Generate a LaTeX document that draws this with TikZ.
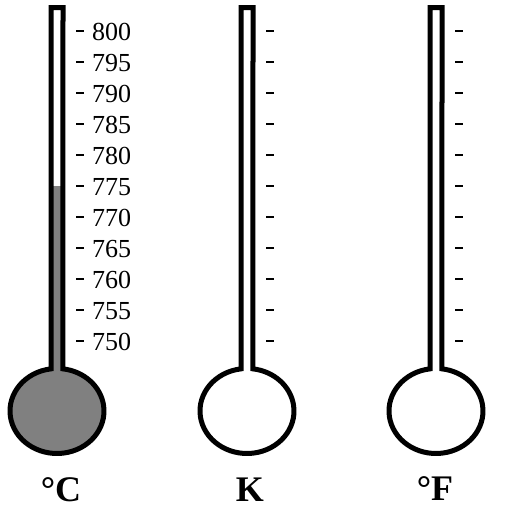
\documentclass[tikz,border=0pt]{standalone}
\usepackage{fontspec}
\setmainfont{Liberation Serif}
\usetikzlibrary{positioning}
\definecolor{mercury}{RGB}{128,128,128}

\begin{document}
\begin{tikzpicture}[x=1pt, y=-1pt,
    glass/.style={line width=5pt},
    tick/.style={line width=2.3pt},
    scalenum/.style={anchor=base west, inner sep=0pt, font=\fontsize{26}{30}\selectfont},
    unit/.style={inner sep=0pt, font=\fontsize{36}{40}\selectfont\bfseries}]
    \useasboundingbox (0,0) rectangle (523,515);

    % mercury of the celsius thermometer
    \fill[mercury] (51,186) rectangle (63,385);
    \fill[mercury] (57,411) ellipse [x radius=47, y radius=42.5];

    % tubes and bulbs
    \foreach \cx in {57,247,436}
        \draw[glass] (\cx-6,7.5) -- (\cx-6,368.85)
            arc [start angle=-97.33, end angle=-442.67, x radius=47, y radius=42.5]
            -- (\cx+6,7.5) -- cycle;

    % scale marks
    \foreach \cx in {57,247,436}
        \foreach \i in {0,...,10}
            \draw[tick] (\cx+19,{31+31*\i}) -- (\cx+27,{31+31*\i});

    % celsius numbers
    \foreach \v [count=\i from 0] in {800,795,...,750}
        \node[scalenum] (num-\v) at (92,{40+31*\i}) {\v};

    % units
    \node[unit] (celsius) at (61,490) {°C};
    \node[unit] (kelvin) at (250,490) {K};
    \node[unit] (fahrenheit) at (435,489) {°F};
\end{tikzpicture}
\end{document}
